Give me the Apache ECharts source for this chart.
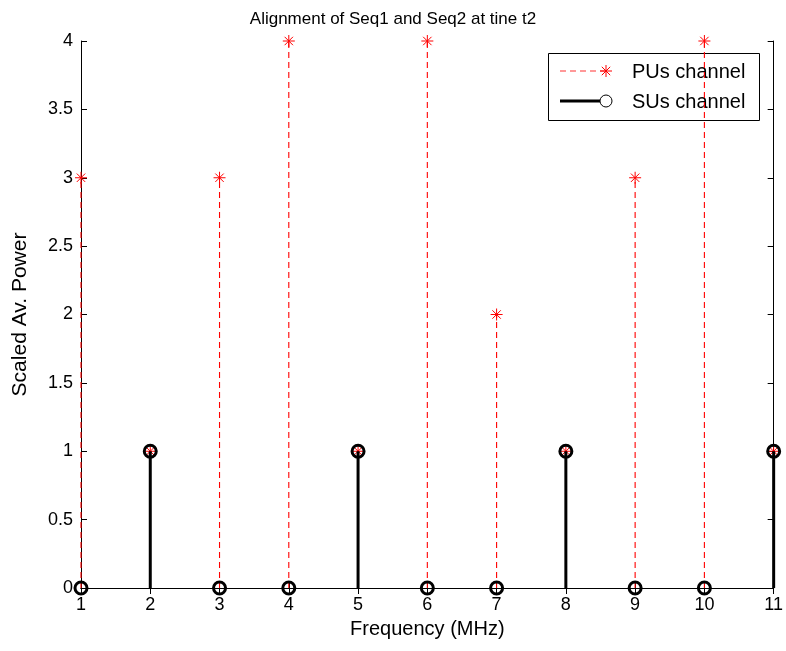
<!DOCTYPE html>
<html>
<head>
<meta charset="utf-8">
<script src="https://cdn.jsdelivr.net/npm/echarts@6/dist/echarts.min.js"></script>
<style>
  html, body { margin: 0; padding: 0; background: #fff; }
  #main { width: 786px; height: 651px; }
</style>
</head>
<body>
<div id="main"></div>
<script>
// stem data
const freqs = [1, 2, 3, 4, 5, 6, 7, 8, 9, 10, 11];
const puPower = [3, 1, 3, 4, 1, 4, 2, 1, 3, 4, 1];
const suPower = [0, 1, 0, 0, 1, 0, 0, 1, 0, 0, 1];
const yTicks = [0, 0.5, 1, 1.5, 2, 2.5, 3, 3.5, 4];

const font = 'Liberation Sans, Arial, Helvetica, sans-serif';
const chart = echarts.init(document.getElementById('main'));

function star(cx, cy, r, color) {
  const d = r * 0.7;
  return {
    type: 'group',
    children: [
      { type: 'line', shape: { x1: cx, y1: cy - r, x2: cx, y2: cy + r }, style: { stroke: color, lineWidth: 1 } },
      { type: 'line', shape: { x1: cx - r, y1: cy, x2: cx + r, y2: cy }, style: { stroke: color, lineWidth: 1 } },
      { type: 'line', shape: { x1: cx - d, y1: cy - d, x2: cx + d, y2: cy + d }, style: { stroke: color, lineWidth: 1 } },
      { type: 'line', shape: { x1: cx - d, y1: cy + d, x2: cx + d, y2: cy - d }, style: { stroke: color, lineWidth: 1 } }
    ]
  };
}

function renderPU(params, api) {
  const top = api.coord([api.value(0), api.value(1)]);
  const base = api.coord([api.value(0), 0]);
  return {
    type: 'group',
    children: [
      { type: 'line', shape: { x1: base[0], y1: base[1], x2: top[0], y2: top[1] },
        style: { stroke: '#ff0000', lineWidth: 1.1, lineDash: [6, 4] } },
      star(top[0], top[1], 6, '#ff0000')
    ]
  };
}

function renderSU(params, api) {
  const top = api.coord([api.value(0), api.value(1)]);
  const base = api.coord([api.value(0), 0]);
  const kids = [];
  if (api.value(1) !== 0) {
    kids.push({ type: 'line', shape: { x1: base[0], y1: base[1], x2: top[0], y2: top[1] },
      style: { stroke: '#000', lineWidth: 3 } });
  }
  kids.push({ type: 'circle', shape: { cx: top[0], cy: top[1], r: 6 },
    style: { fill: 'none', stroke: '#000', lineWidth: 3 } });
  return { type: 'group', children: kids };
}

const axisLine = { show: true, lineStyle: { color: '#000', width: 1 } };
const tickIn = { show: true, inside: true, length: 6, lineStyle: { color: '#000' } };

const option = {
  backgroundColor: '#fff',
  animation: false,
  title: {
    text: 'Alignment of Seq1 and Seq2 at tine t2',
    left: 'center', top: 6,
    textStyle: { fontFamily: font, fontSize: 17, fontWeight: 'normal', color: '#000' }
  },
  grid: { left: 81, right: 11, top: 41, bottom: 63 },
  xAxis: [{
    type: 'value', min: 1, max: 11, interval: 1,
    name: 'Frequency (MHz)', nameLocation: 'middle', nameGap: 31,
    nameTextStyle: { fontFamily: font, fontSize: 20, color: '#000' },
    axisLine: axisLine, axisTick: tickIn, splitLine: { show: false },
    axisLabel: { fontFamily: font, fontSize: 18, color: '#000', margin: 8 }
  }, {
    type: 'value', min: 1, max: 11, interval: 1, position: 'top',
    axisLine: axisLine, axisTick: tickIn, splitLine: { show: false },
    axisLabel: { show: false }
  }],
  yAxis: [{
    type: 'value', min: 0, max: 4, interval: 0.5,
    name: 'Scaled Av. Power', nameLocation: 'middle', nameGap: 50,
    nameTextStyle: { fontFamily: font, fontSize: 21, color: '#000' },
    axisLine: axisLine, axisTick: tickIn, splitLine: { show: false },
    axisLabel: { fontFamily: font, fontSize: 18, color: '#000', margin: 8,
      formatter: v => yTicks.includes(v) ? String(v) : '' }
  }, {
    type: 'value', min: 0, max: 4, interval: 0.5, position: 'right',
    axisLine: axisLine, axisTick: tickIn, splitLine: { show: false },
    axisLabel: { show: false }
  }],
  series: [{
    name: 'PUs channel', type: 'custom', renderItem: renderPU, clip: false,
    data: freqs.map((f, i) => [f, puPower[i]]), z: 3
  }, {
    name: 'SUs channel', type: 'custom', renderItem: renderSU, clip: false,
    data: freqs.map((f, i) => [f, suPower[i]]), z: 4
  }],
  graphic: [{
    type: 'group', x: 548, y: 53, z: 100,
    children: [
      { type: 'rect', shape: { x: 0.5, y: 0.5, width: 211, height: 67 },
        style: { fill: '#fff', stroke: '#000', lineWidth: 1 } },
      { type: 'line', shape: { x1: 12, y1: 18, x2: 58, y2: 18 },
        style: { stroke: '#ff3333', lineWidth: 1.1, lineDash: [6, 4] } },
      star(58, 18, 6, '#ff0000'),
      { type: 'text', x: 84, y: 19, style: { text: 'PUs channel', font: '20px ' + font, fill: '#000', verticalAlign: 'middle' } },
      { type: 'line', shape: { x1: 12, y1: 48, x2: 52, y2: 48 },
        style: { stroke: '#000', lineWidth: 3 } },
      { type: 'circle', shape: { cx: 58, cy: 48, r: 6 },
        style: { fill: 'none', stroke: '#000', lineWidth: 1 } },
      { type: 'text', x: 84, y: 49, style: { text: 'SUs channel', font: '20px ' + font, fill: '#000', verticalAlign: 'middle' } }
    ]
  }]
};

chart.setOption(option);
</script>
</body>
</html>
